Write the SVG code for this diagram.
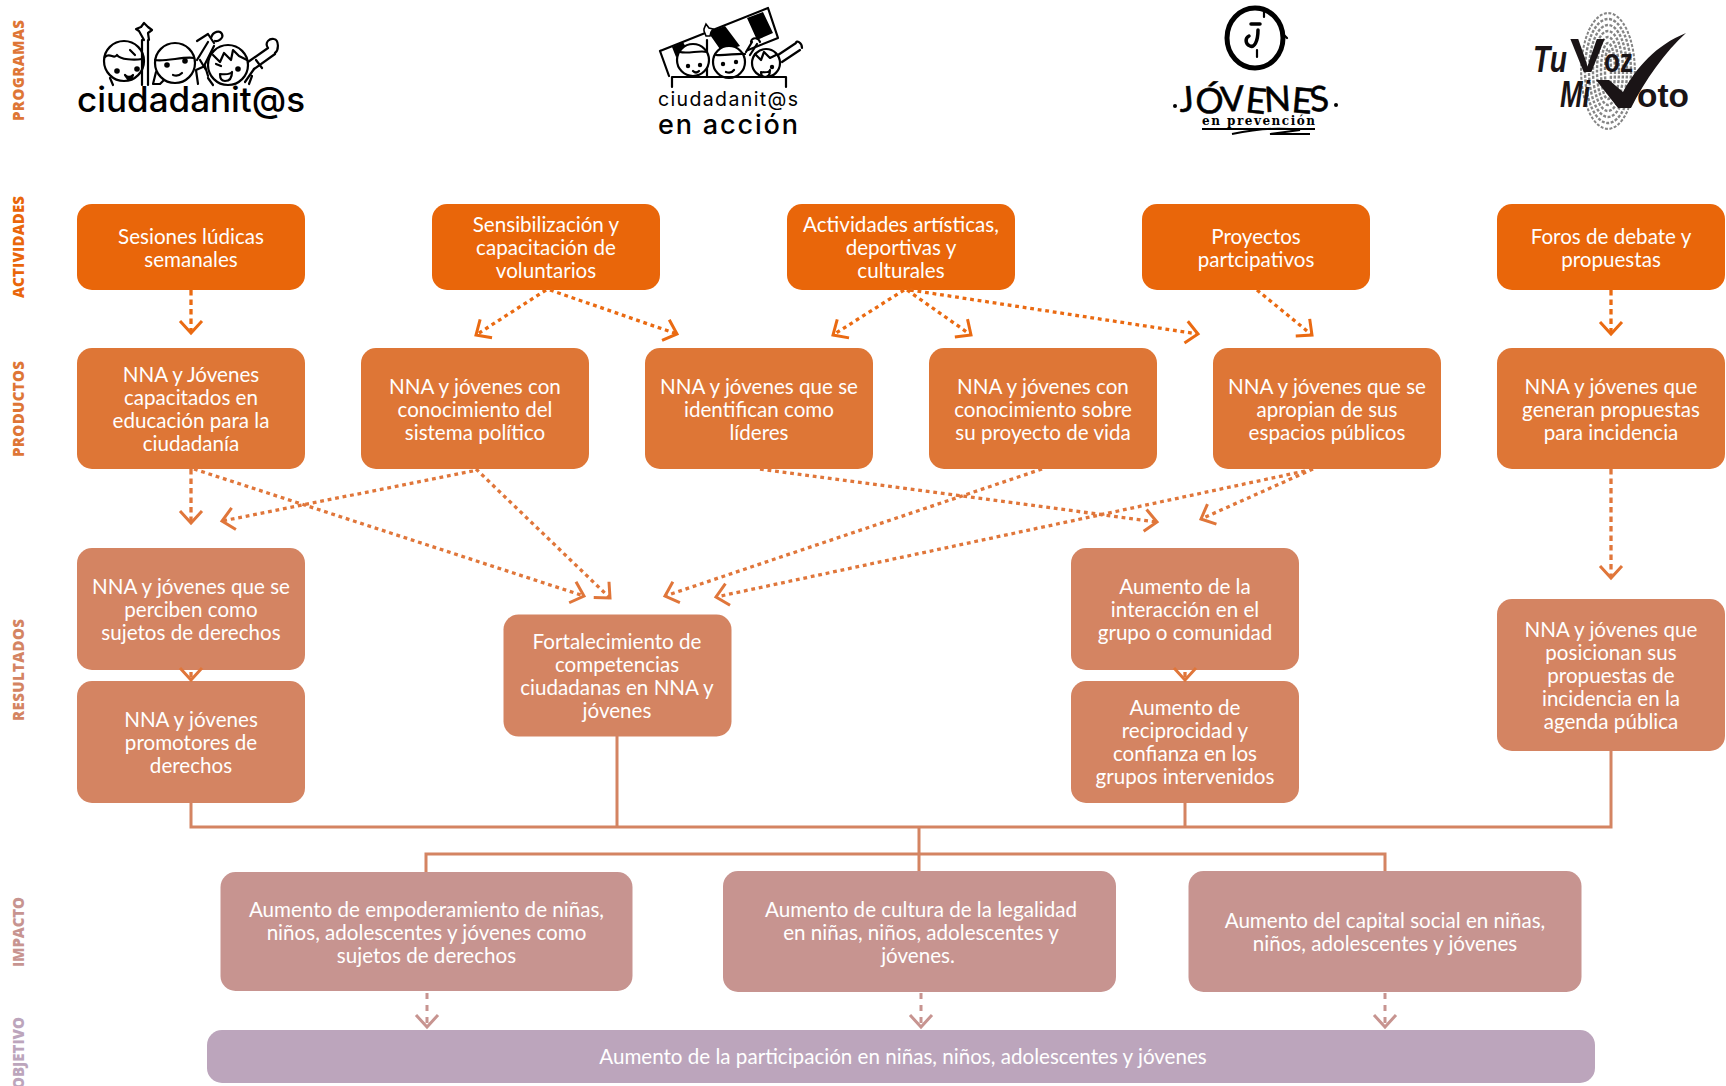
<svg xmlns="http://www.w3.org/2000/svg" width="1726" height="1086" viewBox="0 0 1726 1086">
<style>
.t{font-family:"Lato","Open Sans",sans-serif;font-size:20.6px;fill:#fff;text-anchor:middle}
.l{font-family:"Open Sans","Liberation Sans",sans-serif;font-weight:800;font-size:15px;text-anchor:start}
.a{fill:#E9660A}.p{fill:#DE7636}.r{fill:#D48462}.i{fill:#C79490}.o{fill:#BCA5BC}
.c1,.c2,.c3,.c4{fill:none}
.c1{stroke:#EA6A12;stroke-width:3.3;stroke-dasharray:3.8 3.8;marker-end:url(#m1)}
.c2{stroke:#E0763A;stroke-width:3.3;stroke-dasharray:3.8 3.8;marker-end:url(#m2)}
.v{stroke-dasharray:5.5 4}
.c3{stroke:#D48462;stroke-width:3}
.c4{stroke:#C79490;stroke-width:3;stroke-dasharray:6 6;marker-end:url(#m4)}
.k{fill:none;stroke:#000;stroke-width:2.2;stroke-linecap:round;stroke-linejoin:round}
.d{fill:#000}
.w{fill:#fff;stroke:#000;stroke-width:2.2}
.lg{font-family:"Inter","Lato",sans-serif;fill:#000;text-anchor:start}
</style>
<defs>
<marker id="m1" markerUnits="userSpaceOnUse" viewBox="-16 -14 20 28" refX="0" refY="0" markerWidth="20" markerHeight="28" orient="auto"><path d="M-12,-11L0,0L-12,11" fill="none" stroke="#EA6A12" stroke-width="3"/></marker>
<marker id="m2" markerUnits="userSpaceOnUse" viewBox="-16 -14 20 28" refX="0" refY="0" markerWidth="20" markerHeight="28" orient="auto"><path d="M-12,-11L0,0L-12,11" fill="none" stroke="#E0763A" stroke-width="3"/></marker>
<marker id="m4" markerUnits="userSpaceOnUse" viewBox="-16 -14 20 28" refX="0" refY="0" markerWidth="20" markerHeight="28" orient="auto"><path d="M-12,-11L0,0L-12,11" fill="none" stroke="#C79490" stroke-width="3"/></marker>
<clipPath id="fp"><ellipse cx="1608" cy="71" rx="28" ry="59"/></clipPath>
</defs>
<rect width="1726" height="1086" fill="#fff"/>

<g id="section-labels">
<text class="l" fill="#DE7636" transform="translate(23.5 121) rotate(-90)" textLength="101" lengthAdjust="spacing">PROGRAMAS</text>
<text class="l" fill="#E9660A" transform="translate(23.5 298) rotate(-90)" textLength="102" lengthAdjust="spacing">ACTIVIDADES</text>
<text class="l" fill="#DE7636" transform="translate(23.5 457) rotate(-90)" textLength="96" lengthAdjust="spacing">PRODUCTOS</text>
<text class="l" fill="#D48462" transform="translate(23.5 721) rotate(-90)" textLength="102" lengthAdjust="spacing">RESULTADOS</text>
<text class="l" fill="#C79490" transform="translate(23.5 967) rotate(-90)" textLength="70" lengthAdjust="spacing">IMPACTO</text>
<text class="l" fill="#BCA5BC" transform="translate(23.5 1089) rotate(-90)" textLength="72" lengthAdjust="spacing">OBJETIVO</text>
</g>

<g id="logo-ciudadanitas">
<path class="k" d="M142,85V40M148,85V40M144,40L139,31L136,29L141,27L144,23L148,27L152,30L148,33L149,40"/>
<circle class="k" cx="124" cy="61" r="20"/>
<path class="k" d="M105,57C110,52 114,60 117,55C120,60 135,60 142,59M130,50L135,55"/>
<circle class="d" cx="117" cy="71" r="2.8"/><circle class="d" cx="137" cy="69" r="2.8"/><path class="k" d="M125,75q4,4 8,0q-2,5 -5,4z"/><path class="k" d="M110,78L113,85"/>
<circle class="k" cx="175" cy="63" r="20"/>
<path class="k" d="M155,60C165,62 185,56 194,58M156,72L153,84L160,84L164,80"/>
<circle class="d" cx="167" cy="65" r="2.8"/><circle class="d" cx="185" cy="61" r="2.8"/><path class="k" d="M173,75q5,2 9,-2"/>
<path class="k" d="M197,60L208,42M204,66L214,46M197,41L208,34L214,43"/><path class="k" d="M211,38C213,31 220,30 222,34C224,38 218,42 215,41"/>
<path class="k" d="M198,84L196,70L205,66L208,76M200,60L206,70"/>
<circle class="k" cx="228" cy="65" r="20"/>
<path class="k" d="M213,55L220,62L224,53L231,60L233,50L239,56L247,60"/>
<path class="k" d="M216,64l5,2"/><circle class="d" cx="238" cy="69" r="2.8"/><path class="k" d="M220,74q10,1 12,-2q0,9 -7,9q-5,0 -5,-7z"/>
<path class="k" d="M248,62L268,48M254,69L275,54M256,60L262,68M268,48C264,42 270,38 274,39C279,40 279,50 275,53"/>
<path class="k" d="M213,85L208,78M245,82L254,69M249,84L252,76"/>
<text class="lg" x="77" y="112" font-size="35" font-weight="500" textLength="228" lengthAdjust="spacing">ciudadanit@s</text>
</g>

<g id="logo-ciudadanitas-accion">
<path class="k" d="M660,51L768,8L778,38L748,50M660,51L669,76"/>
<path class="d" d="M672,47L683,42L688,51L676,57zM708,32L725,26L740,46L722,52zM747,18L763,12L773,33L757,40z"/>
<path class="k" d="M707,77V40"/>
<path d="M704,31L706,36L710,36L711,32L713,29L709,28L706,24L704,29z" fill="#fff" stroke="#000" stroke-width="1.6"/>
<circle class="w" cx="693" cy="60" r="16"/><circle class="w" cx="729" cy="62" r="16"/><circle class="w" cx="766" cy="63" r="14"/>
<path class="k" d="M680,52C688,54 700,50 707,52M716,55C725,56 738,53 745,54M755,54L761,60L764,52L770,58L776,55"/>
<circle class="d" cx="688" cy="66" r="2.2"/><circle class="d" cx="700" cy="65" r="2.2"/><circle class="d" cx="723" cy="64" r="2.2"/><circle class="d" cx="736" cy="62" r="2.2"/><circle class="d" cx="772" cy="67" r="2.2"/>
<path class="k" d="M693,71q3,3 6,0M726,72q5,2 8,-2M761,72q8,1 9,-2q0,7 -5,7q-4,0 -4,-5z"/>
<path class="k" d="M778,55L796,43M782,62L800,50M796,43C796,40 802,42 802,48"/><path class="k" d="M746,52L752,42M750,55L757,44M751,42C752,37 758,37 760,42"/>
<path class="k" d="M672,87V77H786V87"/>
<text class="lg" x="658" y="106" font-size="19.5" textLength="140" lengthAdjust="spacing">ciudadanit@s</text>
<text class="lg" x="658" y="134" font-size="27" font-weight="500" textLength="140" lengthAdjust="spacing">en acción</text>
</g>

<g id="logo-jovenes">
<ellipse cx="1255" cy="38" rx="28" ry="30" fill="none" stroke="#000" stroke-width="5"/>
<path fill="none" stroke="#000" stroke-width="3.5" stroke-linecap="round" d="M1251,24h9M1258,30C1258,42 1254,48 1250,46C1245,44 1245,38 1249,36"/>
<path class="k" d="M1257,50v7M1264,10v7M1283,34l4,4"/>
<text x="1180" y="112" font-family="'Lato',sans-serif" font-size="35" fill="#000" stroke="#000" stroke-width=".6" rotate="-5 5 -4 6 -3 5 -6" textLength="150" lengthAdjust="spacing">JÓVENES</text>
<circle class="d" cx="1175" cy="106" r="2"/><circle class="d" cx="1336" cy="105" r="2"/>
<text x="1202" y="125" font-family="'DejaVu Serif',serif" font-weight="700" font-size="12" fill="#000" textLength="113" lengthAdjust="spacing">en prevención</text>
<path fill="none" stroke="#000" stroke-width="2" d="M1202,129H1315M1232,134Q1270,126 1300,130L1270,134H1310"/>
</g>

<g id="logo-tuvoz">
<g clip-path="url(#fp)" fill="none" stroke="#858585" stroke-width="2.4" stroke-dasharray="3 1.6">
<ellipse cx="1608" cy="71" rx="27" ry="58"/><ellipse cx="1608" cy="71" rx="23" ry="52"/><ellipse cx="1608" cy="71" rx="19" ry="46"/><ellipse cx="1608" cy="71" rx="15" ry="40"/><ellipse cx="1608" cy="71" rx="11" ry="34"/><ellipse cx="1608" cy="71" rx="7" ry="28"/><ellipse cx="1608" cy="71" rx="3" ry="22"/>
</g>
<g font-family="'Liberation Sans',sans-serif" fill="#1a1416" font-weight="700">
<text x="1533" y="72" font-size="36" font-style="italic" textLength="34" lengthAdjust="spacingAndGlyphs">Tu</text>
<text x="1570" y="72" font-size="48" textLength="35" lengthAdjust="spacingAndGlyphs">V</text>
<text x="1604" y="72" font-size="33" textLength="29" lengthAdjust="spacingAndGlyphs">oz</text>
<text x="1560" y="107" font-size="36" font-style="italic" textLength="30" lengthAdjust="spacingAndGlyphs">Mi</text>
<text x="1637" y="107" font-size="34" textLength="52" lengthAdjust="spacingAndGlyphs">oto</text>
</g>
<path fill="#1a1416" d="M1596,80L1609,80L1623,92C1636,68 1656,45 1686,33C1665,52 1645,80 1631,108H1618z"/>
</g>

<g id="a1"><rect class="a" x="77" y="204" width="228" height="86" rx="15"/><text class="t"><tspan x="191" y="243.5">Sesiones lúdicas</tspan><tspan x="191" y="266.5">semanales</tspan></text></g>
<g id="a2"><rect class="a" x="432" y="204" width="228" height="86" rx="15"/><text class="t"><tspan x="546" y="232">Sensibilización y</tspan><tspan x="546" y="255">capacitación de</tspan><tspan x="546" y="278">voluntarios</tspan></text></g>
<g id="a3"><rect class="a" x="787" y="204" width="228" height="86" rx="15"/><text class="t"><tspan x="901" y="232">Actividades artísticas,</tspan><tspan x="901" y="255">deportivas y</tspan><tspan x="901" y="278">culturales</tspan></text></g>
<g id="a4"><rect class="a" x="1142" y="204" width="228" height="86" rx="15"/><text class="t"><tspan x="1256" y="243.5">Proyectos</tspan><tspan x="1256" y="266.5">partcipativos</tspan></text></g>
<g id="a5"><rect class="a" x="1497" y="204" width="228" height="86" rx="15"/><text class="t"><tspan x="1611" y="243.5">Foros de debate y</tspan><tspan x="1611" y="266.5">propuestas</tspan></text></g>

<g id="p1"><rect class="p" x="77" y="348" width="228" height="121" rx="15"/><text class="t"><tspan x="191" y="381.5">NNA y Jóvenes</tspan><tspan x="191" y="404.5">capacitados en</tspan><tspan x="191" y="427.5">educación para la</tspan><tspan x="191" y="450.5">ciudadanía</tspan></text></g>
<g id="p2"><rect class="p" x="361" y="348" width="228" height="121" rx="15"/><text class="t"><tspan x="475" y="393.5">NNA y jóvenes con</tspan><tspan x="475" y="416.5">conocimiento del</tspan><tspan x="475" y="439.5">sistema político</tspan></text></g>
<g id="p3"><rect class="p" x="645" y="348" width="228" height="121" rx="15"/><text class="t"><tspan x="759" y="393.5">NNA y jóvenes que se</tspan><tspan x="759" y="416.5">identifican como</tspan><tspan x="759" y="439.5">líderes</tspan></text></g>
<g id="p4"><rect class="p" x="929" y="348" width="228" height="121" rx="15"/><text class="t"><tspan x="1043" y="393.5">NNA y jóvenes con</tspan><tspan x="1043" y="416.5">conocimiento sobre</tspan><tspan x="1043" y="439.5">su proyecto de vida</tspan></text></g>
<g id="p5"><rect class="p" x="1213" y="348" width="228" height="121" rx="15"/><text class="t"><tspan x="1327" y="393.5">NNA y jóvenes que se</tspan><tspan x="1327" y="416.5">apropian de sus</tspan><tspan x="1327" y="439.5">espacios públicos</tspan></text></g>
<g id="p6"><rect class="p" x="1497" y="348" width="228" height="121" rx="15"/><text class="t"><tspan x="1611" y="393.5">NNA y jóvenes que</tspan><tspan x="1611" y="416.5">generan propuestas</tspan><tspan x="1611" y="439.5">para incidencia</tspan></text></g>

<g id="r1"><rect class="r" x="77" y="548" width="228" height="122" rx="15"/><text class="t"><tspan x="191" y="593.5">NNA y jóvenes que se</tspan><tspan x="191" y="616.5">perciben como</tspan><tspan x="191" y="639.5">sujetos de derechos</tspan></text></g>
<g id="r2"><rect class="r" x="77" y="681" width="228" height="122" rx="15"/><text class="t"><tspan x="191" y="726.5">NNA y jóvenes</tspan><tspan x="191" y="749.5">promotores de</tspan><tspan x="191" y="772.5">derechos</tspan></text></g>
<g id="r3"><rect class="r" x="503.5" y="614.5" width="228" height="122" rx="15"/><text class="t"><tspan x="617" y="648.5">Fortalecimiento de</tspan><tspan x="617" y="671.5">competencias</tspan><tspan x="617" y="694.5">ciudadanas en NNA y</tspan><tspan x="617" y="717.5">jóvenes</tspan></text></g>
<g id="r4"><rect class="r" x="1071" y="548" width="228" height="122" rx="15"/><text class="t"><tspan x="1185" y="593.5">Aumento de la</tspan><tspan x="1185" y="616.5">interacción en el</tspan><tspan x="1185" y="639.5">grupo o comunidad</tspan></text></g>
<g id="r5"><rect class="r" x="1071" y="681" width="228" height="122" rx="15"/><text class="t"><tspan x="1185" y="714.5">Aumento de</tspan><tspan x="1185" y="737.5">reciprocidad y</tspan><tspan x="1185" y="760.5">confianza en los</tspan><tspan x="1185" y="783.5">grupos intervenidos</tspan></text></g>
<g id="r6"><rect class="r" x="1497" y="599" width="228" height="152" rx="15"/><text class="t"><tspan x="1611" y="636.5">NNA y jóvenes que</tspan><tspan x="1611" y="659.5">posicionan sus</tspan><tspan x="1611" y="682.5">propuestas de</tspan><tspan x="1611" y="705.5">incidencia en la</tspan><tspan x="1611" y="728.5">agenda pública</tspan></text></g>

<g id="i1"><rect class="i" x="220.5" y="872" width="412" height="119" rx="15"/><text class="t"><tspan x="426.5" y="916.5">Aumento de empoderamiento de niñas,</tspan><tspan x="426.5" y="939.5">niños, adolescentes y jóvenes como</tspan><tspan x="426.5" y="962.5">sujetos de derechos</tspan></text></g>
<g id="i2"><rect class="i" x="723" y="871" width="393" height="121" rx="15"/><text class="t"><tspan x="921" y="916.5">Aumento de cultura de la legalidad</tspan><tspan x="921" y="939.5">en niñas, niños, adolescentes y</tspan><tspan x="918" y="962.5">jóvenes.</tspan></text></g>
<g id="i3"><rect class="i" x="1188.5" y="871" width="393" height="121" rx="15"/><text class="t"><tspan x="1385" y="928">Aumento del capital social en niñas,</tspan><tspan x="1385" y="951">niños, adolescentes y jóvenes</tspan></text></g>
<g id="o1"><rect class="o" x="207" y="1030" width="1388" height="53" rx="15"/><text class="t" x="903" y="1064">Aumento de la participación en niñas, niños, adolescentes y jóvenes</text></g>

<g id="connectors">
<path class="c1 v" d="M191,290V333"/>
<path class="c1" d="M546,290L476,335"/>
<path class="c1" d="M550,290L677,334"/>
<path class="c1" d="M904,290L833,335"/>
<path class="c1" d="M907,290L971,335"/>
<path class="c1" d="M910,290L1198,334"/>
<path class="c1" d="M1257,290L1312,335"/>
<path class="c1 v" d="M1611,290V334"/>
<path class="c2 v" d="M191,469V523"/>
<path class="c2" d="M194,469L584,596"/>
<path class="c2" d="M473,471L222,521"/>
<path class="c2" d="M476,469L610,598"/>
<path class="c2" d="M760,469L1157,522"/>
<path class="c2" d="M1042,469L665,596"/>
<path class="c2" d="M1305,471L716,597"/>
<path class="c2" d="M1313,469L1201,519"/>
<path class="c2 v" d="M1611,469V578"/>
<path class="c2 v" d="M191,672V680"/>
<path class="c2 v" d="M1185,672V680"/>
<path class="c3" d="M191,803V827H1611V751M617,736V827M1185,803V827M919,827V871M426,872V854H1385V871"/>
<path class="c4" d="M427,993V1027"/>
<path class="c4" d="M921,993V1027"/>
<path class="c4" d="M1385,993V1027"/>
</g>
</svg>
